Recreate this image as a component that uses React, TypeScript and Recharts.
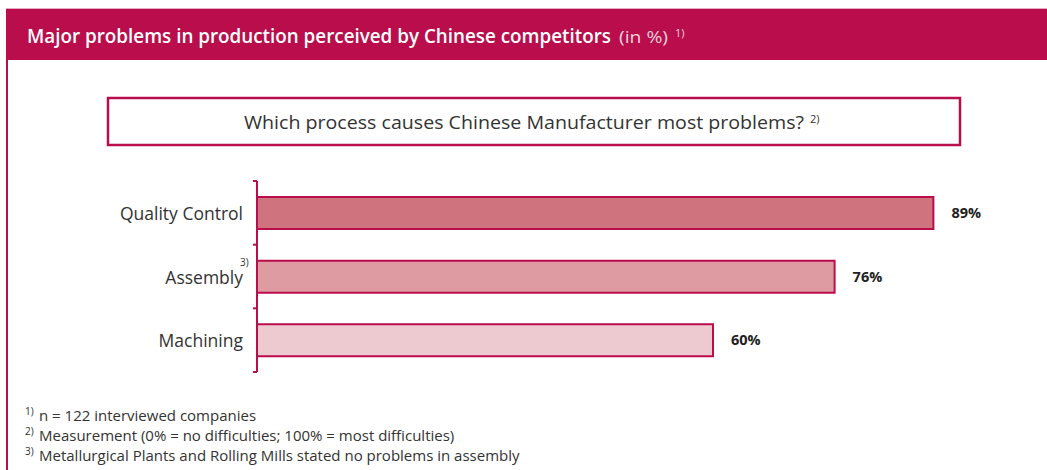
import React from 'react';
import { BarChart, Bar, XAxis, YAxis, Cell, LabelList } from 'recharts';

const titleMain = 'Major problems in production perceived by Chinese competitors';
const titleUnit = '(in %)';
const titleNote = '1)';
const question = 'Which process causes Chinese Manufacturer most problems?';
const questionNote = '2)';

const categories = ['Quality Control', 'Assembly', 'Machining'];
const categoryNotes = ['', '3)', ''];
const values = [89, 76, 60];
const barFills = ['#CF737F', '#DE9BA2', '#EDCACF'];

const footnoteMarks = ['1)', '2)', '3)'];
const footnoteTexts = [
  'n = 122 interviewed companies',
  'Measurement (0% = no difficulties; 100% = most difficulties)',
  'Metallurgical Plants and Rolling Mills stated no problems in assembly',
];

const data = categories.map((c, i) => ({ name: c, value: values[i], note: categoryNotes[i] }));

const ACCENT = '#BA0D4C';
const FONT = '"Open Sans", "Noto Sans", sans-serif';
const TICK_MARGIN = 14;

const CategoryTick = (props: any) => {
  const { x, y, payload, index, visibleTicksCount } = props;
  const off = payload && typeof payload.offset === 'number' ? payload.offset : 0;
  const axisX = x + TICK_MARGIN;
  const note = categoryNotes[categories.indexOf(payload.value)] || '';
  const isLast = index === (visibleTicksCount ?? categories.length) - 1;
  return (
    <g>
      <line x1={axisX - 4} x2={axisX} y1={y - off} y2={y - off} stroke={ACCENT} strokeWidth={2} />
      {isLast && (
        <line x1={axisX - 4} x2={axisX} y1={y + off} y2={y + off} stroke={ACCENT} strokeWidth={2} />
      )}
      <text x={x} y={y} dy={7} textAnchor="end" fontSize={17.5} fill="#333" fontFamily={FONT}>
        {payload.value}
      </text>
      {note && (
        <text x={x - 3} y={y - 11} fontSize={10} fill="#333" fontFamily={FONT}>
          {note}
        </text>
      )}
    </g>
  );
};

export default function App() {
  return (
    <div style={{ position: 'absolute', left: 0, top: 0, width: 1047, height: 470, background: '#fff', overflow: 'hidden' }}>
      <svg width={1047} height={470} style={{ position: 'absolute', left: 0, top: 0 }}>
        <rect x={6} y={8} width={1041} height={1} fill="#E7A9BE" />
        <rect x={6} y={9} width={1041} height={51} fill={ACCENT} />
        <rect x={6} y={60} width={2} height={410} fill={ACCENT} />
        <text x={27} y={43} fill="#fff" fontFamily={FONT} fontWeight={600} fontSize={19} textLength={584} lengthAdjust="spacingAndGlyphs">
          {titleMain}
        </text>
        <text x={619} y={43} fill="#F3D3DE" fontFamily={FONT} fontSize={16} textLength={49} lengthAdjust="spacingAndGlyphs">
          {titleUnit}
        </text>
        <text x={675} y={37} fill="#F3D3DE" fontFamily={FONT} fontSize={11}>
          {titleNote}
        </text>
        <rect x={108} y={98} width={852} height={47} fill="#fff" stroke={ACCENT} strokeWidth={2.5} />
        <text x={524} y={129} textAnchor="middle" fill="#333" fontFamily={FONT} fontSize={18.5} textLength={560} lengthAdjust="spacingAndGlyphs">
          {question}
        </text>
        <text x={810} y={123} fill="#333" fontFamily={FONT} fontSize={11}>
          {questionNote}
        </text>
        {footnoteTexts.map((t, i) => (
          <g key={i}>
            <text x={25} y={415 + i * 20} fill="#333" fontFamily={FONT} fontSize={10}>
              {footnoteMarks[i]}
            </text>
            <text x={39} y={421 + i * 20} fill="#333" fontFamily={FONT} fontSize={15}>
              {t}
            </text>
          </g>
        ))}
      </svg>
      <div style={{ position: 'absolute', left: 0, top: 0 }}>
        <BarChart
          width={1047}
          height={470}
          data={data}
          layout="vertical"
          margin={{ top: 181, bottom: 98, left: 107, right: 30 }}
          barSize={32}
        >
          <XAxis type="number" domain={[0, 100]} hide />
          <YAxis
            type="category"
            dataKey="name"
            width={150}
            tickLine={false}
            tickSize={0}
            tickMargin={TICK_MARGIN}
            axisLine={{ stroke: ACCENT, strokeWidth: 2 }}
            tick={<CategoryTick />}
          />
          <Bar dataKey="value" isAnimationActive={false} stroke={ACCENT} strokeWidth={2}>
            {data.map((d, i) => (
              <Cell key={d.name} fill={barFills[i]} />
            ))}
            <LabelList
              dataKey="value"
              position="right"
              offset={18}
              formatter={(v: any) => `${v}%`}
              fill="#222"
              fontWeight={700}
              fontSize={14.5}
              fontFamily={FONT}
            />
          </Bar>
        </BarChart>
      </div>
    </div>
  );
}
